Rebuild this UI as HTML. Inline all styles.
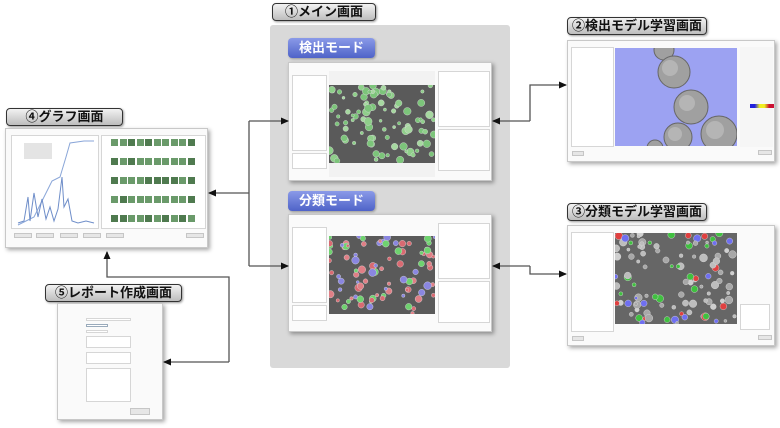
<!DOCTYPE html>
<html><head><meta charset="utf-8">
<style>
*{margin:0;padding:0;box-sizing:border-box}
body{width:780px;height:428px;background:#fff;position:relative;overflow:hidden;font-family:"Liberation Sans","Noto Sans CJK JP",sans-serif}
.a{position:absolute}
.lbl{position:absolute;border:1px solid #333;border-radius:4px;background:linear-gradient(#f2f2f2,#bdbdbd);box-shadow:1px 1px 2px rgba(0,0,0,.4);font-weight:bold;font-size:13px;color:#111;text-align:center}
.mode{position:absolute;border-radius:4px;background:linear-gradient(#8a9ae8,#4f63c8);color:#fff;font-weight:bold;font-size:13px;text-align:center;box-shadow:1px 1px 2px rgba(0,0,0,.3)}
.win{position:absolute;background:#fafafa;border:1px solid #c8c8c8;box-shadow:2px 2px 4px rgba(0,0,0,.35)}
.pan{position:absolute;background:#fff;border:1px solid #d6d6d6}
.img{position:absolute;background:#5a5a5a}
.btn{position:absolute;background:#e6e6e6;border:1px solid #c6c6c6;height:5px}
</style></head><body>

<div class="a" style="left:270px;top:25px;width:240px;height:343px;background:#d9d9d9;border-radius:3px"></div>

<div class="lbl" style="left:272px;top:3px;width:104px;height:18px;line-height:16px">①メイン画面</div>
<div class="lbl" style="left:567px;top:17px;width:140px;height:18px;line-height:16px">②検出モデル学習画面</div>
<div class="lbl" style="left:567px;top:203px;width:140px;height:18px;line-height:16px">③分類モデル学習画面</div>
<div class="lbl" style="left:6px;top:108px;width:117px;height:18px;line-height:16px">④グラフ画面</div>
<div class="lbl" style="left:45px;top:284px;width:137px;height:18px;line-height:16px">⑤レポート作成画面</div>

<div class="mode" style="left:288px;top:38px;width:87px;height:20px;line-height:20px">検出モード</div>
<div class="mode" style="left:288px;top:191px;width:87px;height:20px;line-height:20px">分類モード</div>

<div class="win" style="left:288px;top:62px;width:204px;height:119px">
 <div class="pan" style="left:3px;top:12px;width:35px;height:76px"></div>
 <div class="pan" style="left:3px;top:90px;width:35px;height:16px"></div>
 <div class="pan" style="left:40px;top:8px;width:106px;height:106px;border:none;background:#f2f2f2"></div>
 <div class="img" id="i1" style="left:40px;top:22px;width:106px;height:78px"></div>
 <div class="pan" style="left:149px;top:8px;width:52px;height:56px"></div>
 <div class="pan" style="left:149px;top:66px;width:52px;height:42px"></div>
</div>
<div class="win" style="left:288px;top:214px;width:204px;height:118px">
 <div class="pan" style="left:3px;top:12px;width:35px;height:76px"></div>
 <div class="pan" style="left:3px;top:90px;width:35px;height:16px"></div>
 <div class="img" id="i2" style="left:40px;top:21px;width:106px;height:78px"></div>
 <div class="pan" style="left:149px;top:8px;width:52px;height:56px"></div>
 <div class="pan" style="left:149px;top:66px;width:52px;height:42px"></div>
</div>

<div class="win" style="left:567px;top:40px;width:208px;height:122px">
 <div class="pan" style="left:3px;top:6px;width:43px;height:100px"></div>
 <svg class="a" style="left:47px;top:7px" width="122" height="98">
  <rect width="122" height="98" fill="#9ca2f2"/>
  <g fill="#a0a0a0" stroke="#666" stroke-width="1">
   <circle cx="49" cy="2" r="10"/><circle cx="59" cy="24" r="16"/><circle cx="76" cy="59" r="17"/>
   <circle cx="104" cy="86" r="18"/><circle cx="63" cy="89" r="14"/><circle cx="40" cy="100" r="8"/>
  </g>
  <g fill="#c4c4c4" opacity=".6"><circle cx="55" cy="20" r="8"/><circle cx="72" cy="55" r="8"/><circle cx="100" cy="82" r="9"/><circle cx="60" cy="86" r="7"/></g>
 </svg>
 <div class="pan" style="left:172px;top:6px;width:33px;height:100px;background:#f6f6f6;border:none"></div>
 <div class="a" style="left:182px;top:63px;width:24px;height:4px;background:linear-gradient(90deg,#22d 20%,#ee2 40%,#ee2 60%,#c13 80%)"></div>
 <div class="btn" style="left:4px;top:110px;width:12px"></div>
 <div class="btn" style="left:190px;top:109px;width:14px"></div>
</div>

<div class="win" style="left:567px;top:225px;width:208px;height:121px">
 <div class="pan" style="left:3px;top:6px;width:43px;height:100px"></div>
 <div class="img" id="i3" style="left:47px;top:7px;width:122px;height:91px;background:#666"></div>
 <div class="pan" style="left:172px;top:78px;width:30px;height:26px"></div>
 <div class="btn" style="left:4px;top:110px;width:12px"></div>
 <div class="btn" style="left:190px;top:109px;width:14px"></div>
</div>

<div class="win" style="left:5px;top:128px;width:203px;height:120px">
 <div class="pan" style="left:5px;top:6px;width:88px;height:94px"></div>
 <svg class="a" style="left:8px;top:8px" width="84" height="90">
  <rect x="10" y="6" width="28" height="16" fill="#e4e4e4"/>
  <polyline fill="none" stroke="#8aa6d8" stroke-width="1" points="4,88 20,80 30,60 38,44 46,40 52,20 56,6 70,4 80,4"/>
  <polyline fill="none" stroke="#6f8ec9" stroke-width="1" points="4,86 10,84 14,60 16,84 20,56 24,80 28,62 32,82 36,70 40,84 44,72 48,40 50,70 54,62 58,84 64,86 72,84 80,86"/>
 </svg>
 <div class="pan" style="left:95px;top:6px;width:105px;height:94px"></div>
 <div class="a" id="th" style="left:100px;top:10px;width:90px;height:90px"></div>
 <div class="btn" style="left:8px;top:104px;width:18px"></div><div class="btn" style="left:30px;top:104px;width:18px"></div>
 <div class="btn" style="left:54px;top:104px;width:18px"></div><div class="btn" style="left:77px;top:104px;width:18px"></div>
 <div class="btn" style="left:100px;top:104px;width:18px"></div><div class="btn" style="left:180px;top:104px;width:18px"></div>
</div>

<div class="win" style="left:57px;top:303px;width:106px;height:117px">
 <div class="pan" style="left:28px;top:14px;width:45px;height:3px"></div>
 <div class="pan" style="left:28px;top:20px;width:22px;height:3px;border-color:#9ab"></div>
 <div class="pan" style="left:28px;top:26px;width:22px;height:3px"></div>
 <div class="pan" style="left:28px;top:32px;width:45px;height:12px"></div>
 <div class="pan" style="left:28px;top:48px;width:45px;height:12px"></div>
 <div class="pan" style="left:28px;top:64px;width:45px;height:34px"></div>
 <div class="btn" style="left:72px;top:104px;width:20px;height:7px"></div>
</div>

<svg class="a" style="left:0;top:0" width="780" height="428">
 <defs><marker id="m" markerWidth="8" markerHeight="8" refX="7" refY="4" orient="auto" markerUnits="userSpaceOnUse"><path d="M0,0.5 L8,4 L0,7.5 z" fill="#111"/></marker></defs>
 <g fill="none" stroke="#555" stroke-width="1.3">
  <polyline points="249,121 288,121" marker-end="url(#m)"/>
  <polyline points="249,266 288,266" marker-end="url(#m)"/>
  <polyline points="249,121 249,266"/>
  <polyline points="249,193 209,193" marker-end="url(#m)"/>
  <polyline points="530,121 493,121" marker-end="url(#m)"/>
  <polyline points="530,121 530,85 566,85" marker-end="url(#m)"/>
  <polyline points="530,266 493,266" marker-end="url(#m)"/>
  <polyline points="530,266 530,274 566,274" marker-end="url(#m)"/>
  <polyline points="229,362 164,362" marker-end="url(#m)"/>
  <polyline points="229,362 229,277 107,277 107,252" marker-end="url(#m)"/>
 </g>
</svg>

<script>
var s=7;function r(){s=(s*9301+49297)%233280;return s/233280;}
function dots(id,n,cols){var e=document.getElementById(id),w=e.offsetWidth,h=e.offsetHeight,t='<svg width="'+w+'" height="'+h+'">';
for(var i=0;i<n;i++){var c=cols[Math.floor(r()*cols.length)];t+='<circle cx="'+(r()*w).toFixed(1)+'" cy="'+(r()*h).toFixed(1)+'" r="'+(1.5+r()*2.5).toFixed(1)+'" fill="'+c+'" stroke="#ddd" stroke-width=".4"/>';}
e.innerHTML=t+'</svg>';}
dots('i1',90,['#8fcf8a','#7cc47a','#a6d8a0']);
dots('i2',90,['#e07f86','#8a86e0','#6fd26f','#d96a72']);
dots('i3',110,['#bdbdbd','#a8a8a8','#cfcfcf','#bdbdbd','#a8a8a8','#6f6ff0','#e04040','#40c040']);
var th=document.getElementById('th'),h='';
for(var y=0;y<5;y++)for(var x=0;x<10;x++)h+='<div style="position:absolute;left:'+(5+x*8.5)+'px;top:'+(y*19)+'px;width:7px;height:7px;background:'+(r()>.5?'#4f7a4f':'#6a9a6a')+'"></div>';
th.innerHTML=h;
</script>
</body></html>
